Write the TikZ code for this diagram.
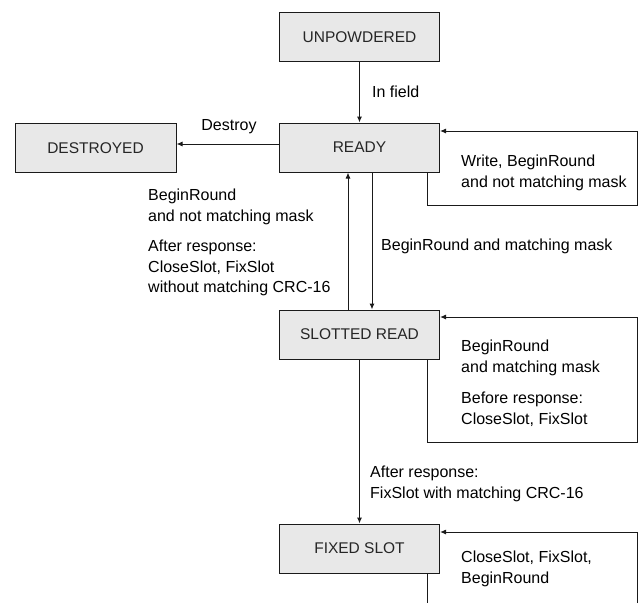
\documentclass[tikz,border=0pt]{standalone}
\usepackage{fontspec}
\setmainfont{Liberation Sans}
\usetikzlibrary{arrows.meta,calc}
\definecolor{boxfill}{HTML}{E8E8E8}
\definecolor{linec}{HTML}{1A1A1A}
\begin{document}
\begin{tikzpicture}[x=1pt,y=-1pt,
  state/.style={draw=linec,line width=1pt,fill=boxfill,minimum width=160pt,minimum height=49pt,inner sep=0pt,font=\fontsize{15.5}{20}\selectfont,text=black!85},
  lbl/.style={inner sep=0pt,align=left,font=\fontsize{16}{20.5}\selectfont,text=black},
  arr/.style={draw=linec,line width=1pt,-{Latex[length=6pt,width=5pt]}},
  ln/.style={draw=linec,line width=1pt}]
\useasboundingbox (0,0) rectangle (639,603);
\fill[white] (0,0) rectangle (639,603);

\node[state] (unp) at (359.5,37) {UNPOWDERED};
\node[state] (ready) at (359.5,147.5) {READY};
\node[state,minimum width=161pt] (dest) at (95.5,148) {DESTROYED};
\node[state] (slot) at (359.5,334.5) {SLOTTED READ};
\node[state] (fixed) at (359.5,548.5) {FIXED SLOT};

% UNPOWDERED -> READY
\draw[arr] (unp) -- (ready);
\node[lbl,anchor=west] (linfield) at (372,92) {In field};

% READY -> DESTROYED
\draw[arr] (ready.west |- 0,144) -- (dest.east |- 0,144);
\node[lbl] (ldestroy) at (229,127) {Destroy};

% READY self loop
\coordinate (r1) at (637,205);
\coordinate (r2) at (637,131);
\draw[arr] (ready.south -| 427,0) |- (r1) -- (r2) -- (r2 -| ready.east);
\node[lbl,anchor=west] (lready) at (461,173) {Write, BeginRound\\and not matching mask};

% READY <-> SLOTTED READ
\draw[arr] (slot.north -| 348,0) -- (ready.south -| 348,0);
\draw[arr] (ready.south -| 372,0) -- (slot.north -| 372,0);
\node[lbl,anchor=west] (lup1) at (148,207) {BeginRound\\and not matching mask};
\node[lbl,anchor=west] (lup2) at (148,268) {After response:\\CloseSlot, FixSlot\\without matching CRC-16};
\node[lbl,anchor=west] (ldown) at (381,246) {BeginRound and matching mask};

% SLOTTED self loop
\coordinate (s1) at (637,442);
\coordinate (s2) at (637,317);
\draw[arr] (slot.south -| 427,0) |- (s1) -- (s2) -- (s2 -| slot.east);
\node[lbl,anchor=west] (lslot1) at (461,358) {BeginRound\\and matching mask};
\node[lbl,anchor=west] (lslot2) at (461,409) {Before response:\\CloseSlot, FixSlot};

% SLOTTED -> FIXED
\draw[arr] (slot) -- (fixed);
\node[lbl,anchor=west] (lfix) at (370,484) {After response:\\FixSlot with matching CRC-16};

% FIXED self loop (cut off)
\coordinate (f0) at (427,603);
\coordinate (f1) at (637,603);
\coordinate (f2) at (637,532);
\draw[ln] (fixed.south -| f0) -- (f0);
\draw[arr] (f1) -- (f2) -- (f2 -| fixed.east);
\node[lbl,anchor=west] (lfixed) at (461,569) {CloseSlot, FixSlot,\\BeginRound};
\end{tikzpicture}
\end{document}
